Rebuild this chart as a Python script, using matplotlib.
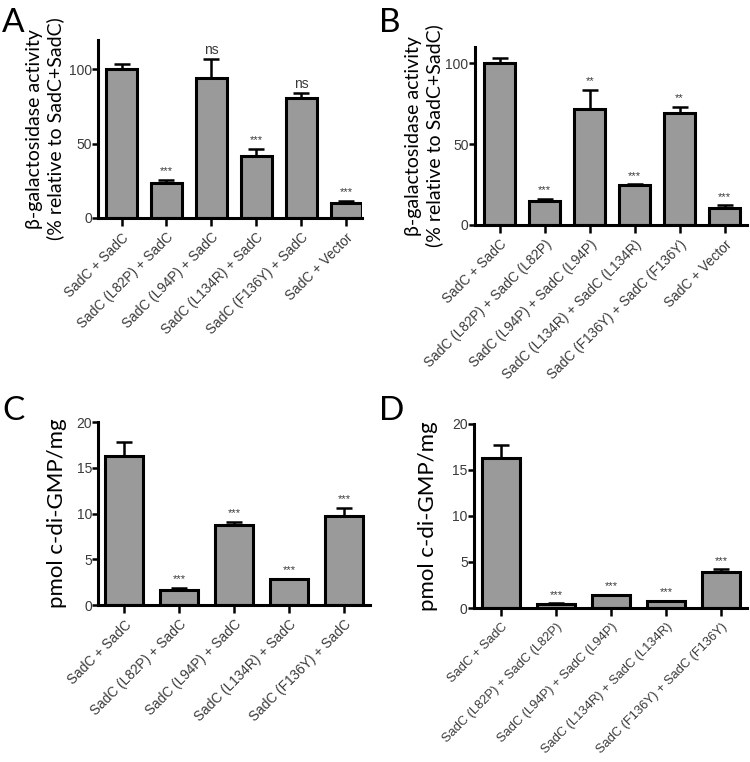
import matplotlib
matplotlib.use("Agg")
import matplotlib.pyplot as plt
import numpy as np

# ===============================
# Data
# ===============================
labels_a = ["SadC + SadC", "SadC (L82P) + SadC", "SadC (L94P) + SadC",
            "SadC (L134R) + SadC", "SadC (F136Y) + SadC", "SadC + Vector"]
mean_a = [100, 23.5, 94.5, 42, 80.5, 10]
err_a = [3.5, 2, 12.5, 4.5, 3.5, 1.5]
sig_a = ["", "***", "ns", "***", "ns", "***"]

labels_b = ["SadC + SadC", "SadC (L82P) + SadC (L82P)", "SadC (L94P) + SadC (L94P)",
            "SadC (L134R) + SadC (L134R)", "SadC (F136Y) + SadC (F136Y)", "SadC + Vector"]
mean_b = [100, 14.8, 71.5, 24.4, 69.5, 10.7]
err_b = [3.5, 1.2, 12, 0.6, 3.5, 1.4]
sig_b = ["", "***", "**", "***", "**", "***"]

labels_c = ["SadC + SadC", "SadC (L82P) + SadC", "SadC (L94P) + SadC",
            "SadC (L134R) + SadC", "SadC (F136Y) + SadC"]
mean_c = [16.3, 1.6, 8.7, 2.8, 9.7]
err_c = [1.5, 0.3, 0.4, 0.1, 0.9]
sig_c = ["", "***", "***", "***", "***"]

labels_d = ["SadC + SadC", "SadC (L82P) + SadC (L82P)", "SadC (L94P) + SadC (L94P)",
            "SadC (L134R) + SadC (L134R)", "SadC (F136Y) + SadC (F136Y)"]
mean_d = [16.3, 0.4, 1.4, 0.75, 3.9]
err_d = [1.4, 0.1, 0.05, 0.05, 0.3]
sig_d = ["", "***", "***", "***", "***"]

GAL_LABEL = "\u03b2-galactosidase activity\n(% relative to SadC+SadC)"
CDG_LABEL = "pmol c-di-GMP/mg"
TXT = "#3a3a3a"


def draw_panel(ax, labels, mean, err, sig, ymax, yticks, ylabel, ylabel_size, width, xlim, lpad,
               xfs=9.8):
    x = np.arange(len(labels))
    ax.bar(x, mean, width=width, color="#9a9a9a", edgecolor="black", linewidth=2.2, zorder=2)
    ax.errorbar(x, mean, yerr=[np.zeros(len(err)), err], fmt="none", ecolor="black",
                elinewidth=1.8, capsize=6, capthick=1.8, zorder=3)
    for xi, m, e, s in zip(x, mean, err, sig):
        if not s:
            continue
        if s == "ns":
            ax.text(xi, m + e + ymax * 0.012, s, ha="center", va="bottom", fontsize=10,
                    family="Liberation Sans", color=TXT)
        else:
            ax.text(xi, m + e + ymax * 0.02, s, ha="center", va="bottom", fontsize=8,
                    family="Liberation Sans", color=TXT)
    ax.set_xlim(*xlim)
    ax.set_ylim(0, ymax)
    ax.set_yticks(yticks)
    ax.set_xticks(x)
    ax.set_xticklabels(labels, rotation=45, ha="right", rotation_mode="anchor",
                       fontsize=xfs, family="Liberation Sans", color=TXT)
    for t in ax.get_yticklabels():
        t.set_family("Liberation Sans")
        t.set_fontsize(10)
        t.set_color(TXT)
    ax.spines["top"].set_visible(False)
    ax.spines["right"].set_visible(False)
    ax.spines["left"].set_linewidth(2.2)
    ax.spines["bottom"].set_linewidth(2.2)
    ax.tick_params(axis="y", length=4, width=1.8, pad=0.5)
    ax.tick_params(axis="x", length=6, width=1.8, pad=3)
    ax.set_ylabel(ylabel, fontsize=ylabel_size, family="Lato", labelpad=lpad)


fig = plt.figure(figsize=(7.5, 7.62), dpi=100)

ax_a = fig.add_axes([0.131, 0.714, 0.352, 0.234])
draw_panel(ax_a, labels_a, mean_a, err_a, sig_a, 120, [0, 50, 100], GAL_LABEL, 14, 0.69,
           (-0.52, 5.36), 3.5)

ax_b = fig.add_axes([0.633, 0.705, 0.363, 0.233])
draw_panel(ax_b, labels_b, mean_b, err_b, sig_b, 110, [0, 50, 100], GAL_LABEL, 14, 0.69,
           (-0.56, 5.5), 1.5)

ax_c = fig.add_axes([0.131, 0.206, 0.362, 0.240])
draw_panel(ax_c, labels_c, mean_c, err_c, sig_c, 20, [0, 5, 10, 15, 20], CDG_LABEL, 16, 0.68,
           (-0.47, 4.47), 7)

ax_d = fig.add_axes([0.632, 0.202, 0.364, 0.242])
draw_panel(ax_d, labels_d, mean_d, err_d, sig_d, 20, [0, 5, 10, 15, 20], CDG_LABEL, 16, 0.68,
           (-0.49, 4.47), 10, xfs=9.3)

# panel letters
for letter, (lx, ly) in zip("ABCD", [(0.003, 0.99), (0.506, 0.99), (0.003, 0.48), (0.506, 0.48)]):
    fig.text(lx, ly, letter, fontsize=24, family="Lato", ha="left", va="top")

fig.savefig("out.png", dpi=100, facecolor="white")
plt.close(fig)
